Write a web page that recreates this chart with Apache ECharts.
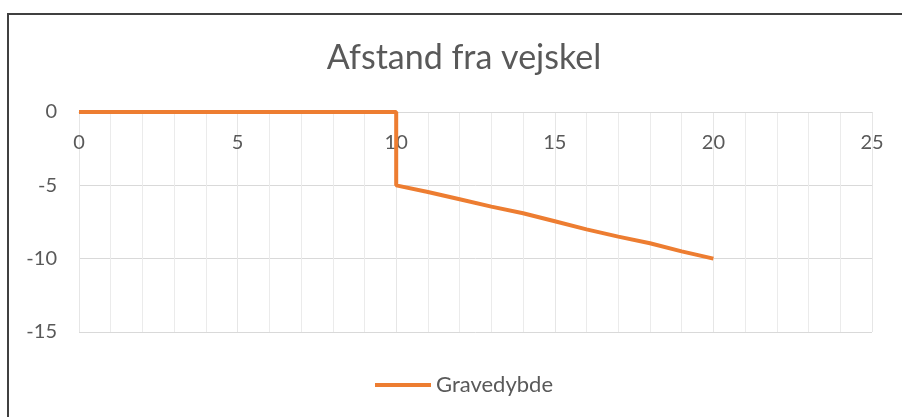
<!DOCTYPE html>
<html>
<head>
<meta charset="utf-8">
<script src="https://cdn.jsdelivr.net/npm/echarts@6/dist/echarts.min.js"></script>
<style>
  html, body { margin: 0; padding: 0; background: #fff; }
  #chart { width: 902px; height: 417px; }
</style>
</head>
<body>
<div id="chart"></div>
<script>
// data
const distance = [0, 10, 10, 11, 12, 13, 14, 15, 16, 17, 18, 19, 20]
const depth = [0, 0, -5, -5.45, -5.95, -6.45, -6.9, -7.45, -8, -8.5, -8.95, -9.5, -10]
const seriesName = 'Gravedybde'
const chartTitle = 'Afstand fra vejskel'

const fontFamily = 'Lato, "Open Sans", sans-serif'
const textColor = '#595959'

const points = distance.map((d, i) => [d, depth[i]])

const chart = echarts.init(document.getElementById('chart'))
chart.setOption({
  backgroundColor: '#fff',
  animation: false,
  title: {
    text: chartTitle,
    left: 459,
    top: 36,
    textAlign: 'center',
    textStyle: { color: textColor, fontFamily: fontFamily, fontSize: 34, fontWeight: 'normal' }
  },
  legend: {
    data: [seriesName],
    left: 370,
    bottom: 16,
    icon: 'rect',
    itemWidth: 56,
    itemHeight: 4,
    itemGap: 4,
    textStyle: { color: textColor, fontFamily: fontFamily, fontSize: 22 }
  },
  grid: { left: 79, right: 30, top: 112, bottom: 85 },
  xAxis: {
    type: 'value',
    position: 'top',
    min: 0,
    max: 25,
    interval: 5,
    axisLine: { lineStyle: { color: '#d9d9d9', width: 1 } },
    axisTick: { show: false },
    axisLabel: { inside: true, color: textColor, fontFamily: fontFamily, fontSize: 20, margin: 21 },
    splitLine: { show: true, lineStyle: { color: '#e6e6e6', width: 1 } },
    minorTick: { show: false, splitNumber: 5 },
    minorSplitLine: { show: true, lineStyle: { color: '#ebebeb', width: 1 } }
  },
  yAxis: {
    type: 'value',
    min: -15,
    max: 0,
    interval: 5,
    axisLine: { show: false },
    axisTick: { show: false },
    axisLabel: { color: textColor, fontFamily: fontFamily, fontSize: 20, margin: 22 },
    splitLine: { show: true, lineStyle: { color: '#d9d9d9', width: 1 } }
  },
  series: [{
    name: seriesName,
    type: 'line',
    data: points,
    symbol: 'none',
    lineStyle: { color: '#ed7d31', width: 4 },
    itemStyle: { color: '#ed7d31' }
  }],
  // chart area border (only top/left edges fall inside the frame)
  graphic: [{
    type: 'rect',
    shape: { x: 8, y: 14, width: 920, height: 430 },
    style: { fill: null, stroke: '#404040', lineWidth: 2 },
    silent: true
  }]
})
</script>
</body>
</html>
